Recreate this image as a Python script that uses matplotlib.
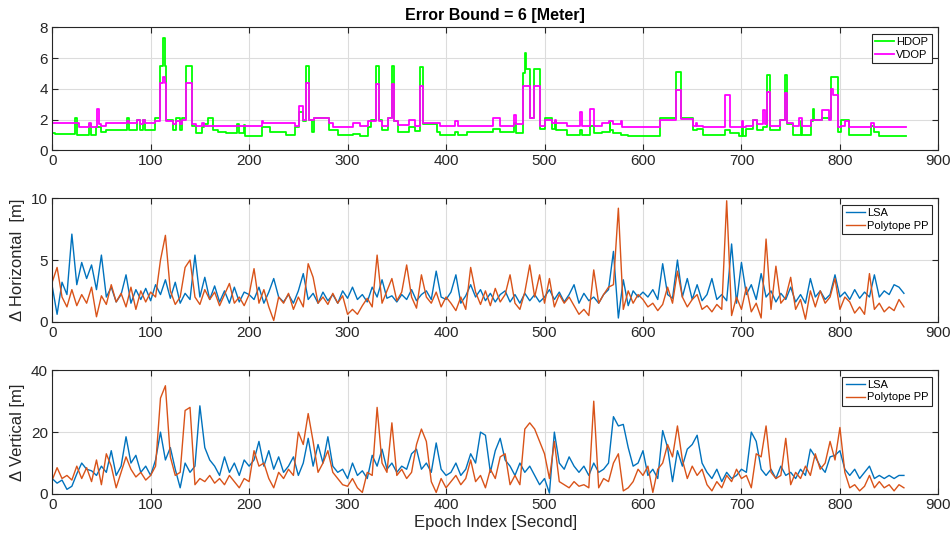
import numpy as np
import matplotlib
matplotlib.use('Agg')
import matplotlib.pyplot as plt

plt.rcParams['font.family'] = ['Liberation Sans', 'DejaVu Sans']

# ---- DOP (step values, change-point epochs) ----
hdop_t = [0, 3, 23, 25, 37, 39, 45, 50, 55, 76, 78, 86, 89, 92, 94, 104, 109, 113, 114.5, 116,
          123, 126, 130, 132, 136, 141.5, 146, 152, 154, 158, 163, 168, 177, 188, 189.5, 195, 196,
          213, 221, 237, 247, 251, 255, 258, 261, 264, 266, 281, 290, 306, 313, 321, 324, 329, 332,
          335, 341, 345, 347, 351, 362, 368, 374, 377, 391, 394, 409, 412, 421, 448, 455, 469, 471,
          478, 480, 481.5, 485, 489, 495, 500, 508, 511, 512, 523, 536, 538, 546, 550, 558, 566,
          567, 570, 578, 585, 617, 633.5, 639, 651, 654.5, 661, 683, 688, 698, 701, 702, 705, 712,
          716, 722, 726, 728.5, 739, 744, 746.5, 752.5, 760, 761, 762, 771, 773, 774, 782, 791, 798,
          801, 809, 832, 835, 840, 867]
hdop_v = [1.15, 1.05, 2.1, 1.0, 1.7, 1.0, 1.5, 1.2, 1.3, 2.1, 1.35, 2.0, 1.35, 2.0, 1.3, 2.1, 5.5, 7.3, 5.5, 2.0,
          1.3, 2.1, 1.3, 2.1, 5.5, 1.6, 1.1, 1.5, 1.7, 2.1, 1.3, 1.2, 1.1, 1.7, 1.1, 1.65, 0.95,
          1.5, 1.2, 1.0, 1.5, 2.5, 1.9, 5.5, 2.0, 1.2, 2.1, 1.3, 1.0, 1.05, 0.9, 1.5, 2.0, 5.5, 2.0,
          1.3, 2.1, 5.5, 1.9, 1.2, 1.5, 1.25, 5.4, 1.7, 1.2, 1.0, 1.2, 1.0, 1.2, 1.4, 1.2, 1.8, 1.1,
          5.0, 6.3, 5.3, 2.1, 5.3, 1.4, 2.1, 1.4, 1.9, 1.3, 1.0, 1.3, 1.0, 1.6, 1.1, 1.2, 1.8,
          1.3, 1.1, 1.0, 0.9, 2.1, 5.1, 2.1, 1.3, 1.4, 1.0, 1.35, 1.1, 0.9, 1.5, 0.9, 1.4, 2.0,
          1.3, 1.5, 4.9, 1.3, 2.0, 4.9, 1.7, 1.0, 1.9, 1.3, 1.0, 1.9, 2.7, 2.0, 2.1, 4.8, 1.2,
          2.0, 1.0, 1.6, 1.2, 0.95, 0.95]

vdop_t = [0, 27, 37, 39, 46, 48, 50, 55, 76, 78, 86, 89, 92, 94, 104, 109, 112.5, 114.5, 116, 123,
          126, 130, 132, 136, 141.5, 146, 152, 154, 168, 177, 196, 213, 214, 247, 251, 255, 258,
          261, 266, 281, 285, 306, 313, 321, 329, 332, 335, 341, 345, 347, 351, 362, 368, 374, 377,
          394, 409, 412, 448, 455, 469, 471, 478, 485, 489, 495, 500, 508, 511, 512, 523, 536, 538,
          546, 550, 558, 565, 570, 578, 579, 617, 633.5, 639, 651, 654, 655, 661, 683, 688, 701,
          702, 705, 712, 716, 722, 724, 726, 728.5, 739, 744, 746.5, 752.5, 758, 762, 771, 782,
          789, 791, 793, 798, 801, 805, 809, 832, 835, 867]
vdop_v = [1.8, 1.5, 1.75, 1.5, 2.7, 1.7, 1.6, 1.75, 1.9, 1.75, 2.0, 1.7, 2.0, 1.75, 1.9, 4.4, 4.8, 4.4, 1.9, 1.7,
          1.9, 1.7, 2.0, 4.4, 1.7, 1.6, 1.8, 1.6, 1.55, 1.6, 1.55, 1.9, 1.75, 1.6, 2.9, 2.0, 4.4,
          2.0, 2.1, 1.75, 1.5, 1.8, 1.55, 1.9, 4.3, 1.9, 1.6, 2.1, 4.3, 1.9, 1.65, 1.95, 1.6, 4.2, 1.75,
          1.55, 1.9, 1.6, 2.1, 1.6, 2.3, 1.7, 4.2, 2.1, 4.2, 1.6, 2.0, 1.8, 2.0, 1.75, 1.55, 2.5, 1.55,
          2.7, 1.6, 1.75, 1.9, 1.7, 1.9, 1.5, 2.0, 3.9, 2.05, 1.6, 1.8, 1.6, 1.5, 3.6, 1.5, 1.9,
          1.5, 1.6, 2.0, 1.7, 2.6, 1.7, 3.8, 1.6, 2.0, 3.7, 1.8, 1.6, 2.1, 1.6, 2.0, 2.6,
          2.0, 4.0, 3.6, 1.5, 1.6, 1.9, 1.5, 1.8, 1.5, 1.5]

# ---- position errors, sampled every 5 epochs ----
epoch = np.arange(0, 866, 5)

h_lsa = [2.9, 0.6, 3.2, 2.2, 7.1, 3.0, 4.8, 3.5, 4.6, 2.6, 5.4, 2.0, 2.8, 1.6, 2.2, 3.8, 1.5, 2.6, 1.8, 2.7, 1.7,
         3.0, 2.2, 3.4, 1.9, 3.2, 1.5, 2.3, 1.8, 5.4, 2.0, 3.6, 1.8, 2.9, 1.6, 2.5, 1.5, 2.8, 1.6, 2.4, 2.2,
         1.8, 2.8, 1.5, 2.4, 3.5, 2.0, 1.6, 2.2, 1.5, 2.5, 3.9, 1.8, 2.3, 1.5, 2.4, 1.7, 2.2, 1.5, 2.5, 1.9,
         2.8, 1.8, 2.2, 1.6, 2.8, 2.0, 3.4, 1.9, 2.1, 1.6, 2.2, 1.8, 2.6, 1.7, 2.2, 2.5, 1.8, 4.1, 2.0, 1.8,
         2.4, 3.8, 1.5, 2.1, 3.0, 2.0, 2.6, 1.7, 2.3, 1.6, 2.2, 2.5, 1.6, 2.2, 1.5, 2.3, 1.7, 2.2, 1.6, 2.0,
         2.6, 1.8, 2.4, 1.6, 2.2, 3.0, 1.5, 2.3, 1.7, 2.0, 1.5, 2.2, 2.6, 5.7, 0.3, 3.4, 1.3, 2.5, 2.0, 2.4,
         2.0, 2.6, 1.8, 4.7, 2.2, 1.9, 5.0, 2.0, 3.5, 1.8, 3.0, 1.7, 2.2, 3.5, 1.8, 2.2, 1.7, 6.3, 1.5, 4.8,
         2.2, 3.0, 1.8, 3.9, 2.0, 2.5, 1.6, 2.3, 1.8, 2.8, 1.6, 2.2, 1.5, 3.5, 2.0, 2.5, 1.8, 2.2, 3.8, 2.0,
         2.4, 1.8, 2.6, 1.9, 2.4, 2.0, 3.8, 2.0, 2.5, 2.2, 3.0, 2.8, 2.3]
h_pp = [3.2, 4.4, 2.0, 1.2, 2.6, 1.3, 2.2, 1.5, 2.8, 0.4, 2.1, 1.4, 3.0, 1.6, 2.3, 1.2, 2.8, 1.0, 2.5, 1.6, 2.4,
        2.0, 5.0, 7.0, 2.5, 1.4, 2.0, 4.4, 5.0, 2.0, 1.4, 2.6, 1.8, 2.4, 1.3, 2.2, 3.1, 1.5, 2.0, 1.3, 2.2,
        4.3, 1.5, 2.6, 1.2, 0.1, 2.0, 1.5, 2.3, 1.0, 2.0, 1.2, 4.7, 3.6, 1.5, 2.0, 1.4, 2.3, 1.5, 2.1, 0.6,
        1.0, 0.6, 1.3, 1.9, 1.2, 5.4, 1.5, 2.5, 3.5, 1.7, 2.4, 4.6, 2.0, 1.1, 3.8, 2.0, 1.5, 2.4, 1.2, 2.0,
        1.5, 0.9, 2.0, 1.0, 4.4, 2.4, 1.4, 2.5, 1.3, 2.7, 1.6, 2.2, 3.8, 1.5, 1.0, 2.4, 4.6, 2.0, 3.8, 1.5,
        3.5, 1.2, 2.2, 1.5, 2.0, 1.3, 0.6, 1.0, 0.5, 4.2, 1.5, 2.2, 2.8, 3.0, 9.2, 1.0, 2.5, 1.5, 2.2, 1.8,
        1.2, 1.5, 0.9, 1.4, 2.8, 1.5, 4.1, 2.0, 1.2, 1.8, 2.2, 1.0, 1.3, 0.8, 1.4, 1.0, 9.8, 0.5, 2.0, 1.0,
        2.8, 0.8, 1.5, 0.3, 6.7, 1.0, 4.5, 1.5, 2.0, 3.6, 1.0, 1.8, 0.2, 2.5, 1.2, 2.5, 1.5, 2.0, 3.5, 1.0,
        2.0, 1.6, 0.7, 1.2, 0.6, 3.9, 1.0, 1.5, 0.8, 1.2, 0.9, 1.8, 1.2]

v_lsa = [5, 3.5, 4.5, 1.5, 2.5, 6.5, 10, 8, 7.5, 6, 9, 7, 14, 6, 9, 18.5, 10, 12.5, 7, 9, 6,
         11, 20, 11, 15, 8, 2, 10, 7, 9, 28.5, 15, 11, 9, 6, 12, 7, 10, 6, 11, 9,
         11, 17, 9, 14, 8, 12, 7, 9, 12, 6, 10, 18, 9, 16, 10, 18.5, 9, 7, 8, 5,
         10, 6, 7.5, 5, 12.5, 9, 14.5, 8, 10, 7, 9, 8, 13, 14.5, 8, 10, 7, 16.5, 8, 6,
         7, 10, 6, 8, 13, 10, 20, 19, 7, 14, 18, 11, 9, 6, 10, 7, 9, 6, 3, 5,
         0.3, 20, 10, 8, 12, 9, 7, 9, 6, 10, 7, 8, 10, 25, 22, 22.5, 15, 9, 10, 14,
         6, 8, 5, 20.5, 15, 4, 14, 9, 14.5, 16, 19, 10, 7, 5, 8, 4, 7, 5, 6, 8,
         7, 20, 17, 8, 6, 8, 5, 9, 6, 7, 5, 8, 6, 14.5, 12, 9, 7, 12, 12.5, 14,
         8, 6, 8, 5, 7, 9, 5, 6, 5, 6, 5, 6, 6]
v_pp = [4.5, 8.5, 5, 6, 4.5, 9, 5, 8.5, 4, 11, 3, 13, 9, 2, 7, 12, 8, 5.5, 7, 4.5, 6,
        9, 31, 35, 12, 6, 7, 27, 28, 3, 5, 4, 6, 3.5, 5, 3, 6, 4, 2, 5, 4,
        14, 9, 10, 5, 2, 7, 5, 8, 6, 20, 16, 26, 17, 7, 10, 14, 7, 5, 3, 2.5,
        5, 2, 0.5, 7, 6, 28, 10, 7, 23, 6, 8, 5, 7, 16, 21, 17, 4, 0.5, 5, 2,
        4, 6, 3, 5, 11, 4, 6, 2, 8, 5, 12, 13, 3, 6, 3, 21, 23, 21, 17, 13,
        5, 17, 4, 3, 2, 4, 2.5, 3, 2, 30, 2, 5, 4, 10, 13, 1, 2, 4, 8, 6,
        9, 0.5, 8, 10, 16, 12, 22, 11, 5, 9, 6, 8, 3, 1, 4, 2, 6, 4, 8, 5,
        6, 2, 13, 12, 22, 7, 5, 6, 18, 3, 7, 5, 9, 6, 13, 8, 10, 17, 11, 21.5,
        7, 2, 3, 1, 2.5, 6, 2, 4, 2, 3, 1, 3, 2]

c_lsa = (0, 0.447, 0.741)
c_pp = (0.85, 0.325, 0.098)
axc = '#262626'


def style(ax, yticks):
    ax.set_xlim(0, 900)
    ax.set_xticks(range(0, 901, 100))
    ax.set_ylim(yticks[0], yticks[-1])
    ax.set_yticks(yticks)
    ax.grid(True, color='#dcdcdc', linewidth=0.8)
    ax.set_axisbelow(True)
    ax.tick_params(direction='in', top=True, right=True, length=4, width=0.8,
                   labelsize=11, colors=axc, labelcolor=axc, pad=3)
    for s in ax.spines.values():
        s.set_color(axc)
        s.set_linewidth(0.8)


fig = plt.figure(figsize=(9.52, 5.45), dpi=100)
ax1 = fig.add_axes([0.0548, 0.7242, 0.9309, 0.2257])
ax2 = fig.add_axes([0.0548, 0.4097, 0.9309, 0.2264])
ax3 = fig.add_axes([0.0548, 0.0936, 0.9309, 0.2270])

ax1.plot(hdop_t, hdop_v, color=(0, 1, 0), lw=1.3, drawstyle='steps-post', label='HDOP')
ax1.plot(vdop_t, vdop_v, color=(1, 0, 1), lw=1.3, drawstyle='steps-post', label='VDOP')
style(ax1, [0, 2, 4, 6, 8])
ax1.set_title('Error Bound = 6 [Meter]', fontsize=11.5, fontweight='bold', pad=5)

ax2.plot(epoch, h_lsa, color=c_lsa, lw=1.0, label='LSA')
ax2.plot(epoch, h_pp, color=c_pp, lw=1.0, label='Polytope PP')
style(ax2, [0, 5, 10])
ax2.set_ylabel('Δ Horizontal  [m]', fontsize=12, color=axc)
ax2.yaxis.set_label_coords(-0.031, 0.5)

ax3.plot(epoch, v_lsa, color=c_lsa, lw=1.0, label='LSA')
ax3.plot(epoch, v_pp, color=c_pp, lw=1.0, label='Polytope PP')
style(ax3, [0, 20, 40])
ax3.set_ylabel('Δ Vertical [m]', fontsize=12, color=axc)
ax3.yaxis.set_label_coords(-0.031, 0.5)
ax3.set_xlabel('Epoch Index [Second]', fontsize=12, color=axc, labelpad=2)

for ax in (ax1, ax2, ax3):
    leg = ax.legend(loc='upper right', fontsize=8, fancybox=False, framealpha=1,
                    edgecolor='#262626', handlelength=1.7, handletextpad=0.2,
                    borderpad=0.3, labelspacing=0.2, borderaxespad=0.6)
    leg.get_frame().set_linewidth(0.8)

fig.savefig('out.png', dpi=100)
